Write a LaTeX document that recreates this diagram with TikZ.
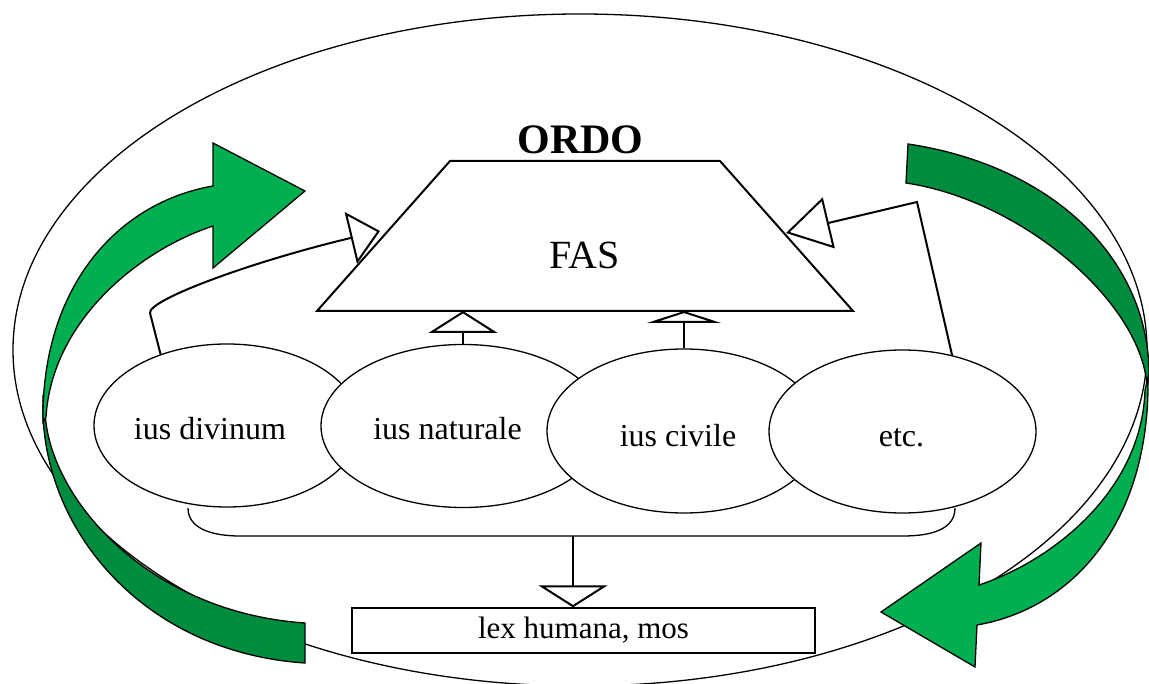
\documentclass[tikz,border=0pt]{standalone}
\usepackage{fontspec}
\setmainfont{Liberation Serif}
\usetikzlibrary{shapes.geometric,arrows.meta}
\definecolor{lightg}{RGB}{0,176,80}
\definecolor{darkg}{RGB}{0,140,62}
\begin{document}
\begin{tikzpicture}[x=1pt,y=-1pt,line join=miter,
  thinline/.style={line width=1.3pt},
  conn/.style={line width=2pt},
  lawell/.style={ellipse,draw,line width=1.3pt,fill=white,inner sep=0pt},
  lbl/.style={anchor=base,inner sep=0pt,font=\fontsize{32}{38}\selectfont},
  garrow/.style={line width=1.3pt,draw=black}]
\useasboundingbox (0,0) rectangle (1149,684);
% outer ellipse
\node[ellipse,draw,line width=1.3pt,inner sep=0pt,minimum width=1134pt,minimum height=672pt] (outer) at (580,350) {};
% green arrows
\draw[garrow,fill=darkg] (305,623) -- (305,663) .. controls (140,652) and (39,525) .. (43,400) -- (45,410) .. controls (47,495) and (145,612) .. (305,623) -- cycle;
\draw[garrow,fill=lightg] (43,422) .. controls (41,290) and (115,203) .. (213,186) -- (213,143) -- (305,191) -- (213,268) -- (213,226) .. controls (140,250) and (52,320) .. (46,417) -- cycle;
\draw[garrow,fill=darkg] (906,183) -- (908,144) .. controls (1055,166) and (1152,262) .. (1149,380) -- (1147,385) .. controls (1140,300) and (1020,200) .. (906,183) -- cycle;
\draw[garrow,fill=lightg] (1148,378) .. controls (1150,520) and (1075,608) .. (977,625) -- (975,667) -- (881,612) -- (981,543) -- (979,585) .. controls (1052,561) and (1142,491) .. (1145,390) -- cycle;
% trapezoid
\coordinate (tl) at (450,161);
\coordinate (tr) at (720,161);
\coordinate (br) at (853,311);
\coordinate (bl) at (317,311);
\draw[conn,fill=white] (tl) -- (tr) -- (br) -- (bl) -- cycle;
\node[anchor=base,inner sep=0pt,font=\fontsize{40}{48}\selectfont] (fas) at (584.5,269) {FAS};
\node[anchor=base,inner sep=0pt,font=\bfseries\fontsize{42}{50}\selectfont] (ordo) at (580.5,154) {ORDO};
% law ellipses
\node[lawell,minimum width=266pt,minimum height=163pt] (div) at (227,425.5) {};
\node[lawell,minimum width=284pt,minimum height=163pt] (nat) at (463,426) {};
\node[lawell,minimum width=274pt,minimum height=164pt] (civ) at (684,431) {};
\node[lawell,minimum width=267pt,minimum height=163pt] (etc) at (902.5,431.5) {};
\node[lbl] (tdiv) at (210,440) {ius divinum};
\node[lbl] (tnat) at (447.5,440) {ius naturale};
\node[lbl] (tciv) at (678,447) {ius civile};
\node[lbl] (tetc) at (901.5,447) {etc.};
% connectors to FAS
\coordinate (bendL) at (150,313);
\coordinate (aL) at (380,231);
\draw[conn,-{Triangle[open,length=30pt,width=53pt]}] (div.133.5) -- (bendL) .. controls (148,300) and (250,262) .. (aL);
\coordinate (bendR) at (917,202);
\coordinate (aR) at (786,233);
\draw[conn,-{Triangle[open,length=44pt,width=52pt]}] (etc.57.6) -- (bendR) -- (aR);
\draw[conn,-{Triangle[open,length=22pt,width=69pt]}] (nat.north) -- (nat.north |- bl);
\draw[conn,-{Triangle[open,length=12pt,width=74pt]}] (civ.north) -- (civ.north |- bl);
% bracket
\coordinate (bkL) at (188,508);
\coordinate (bkR) at (955,508);
\coordinate (brk) at (573,536);
\draw[thinline] (bkL) .. controls (188,530) and (215,536) .. (240,536) -- (brk) -- (903,536) .. controls (930,536) and (955,530) .. (bkR);
% box
\node[draw,thinline,fill=white,inner sep=0pt,minimum width=463pt,minimum height=45pt,font=\fontsize{31}{37}\selectfont] (lex) at (583.5,630.5) {lex humana, mos};
\draw[conn,-{Triangle[open,length=22pt,width=69pt]}] (brk) -- (brk |- lex.north);
\end{tikzpicture}
\end{document}
